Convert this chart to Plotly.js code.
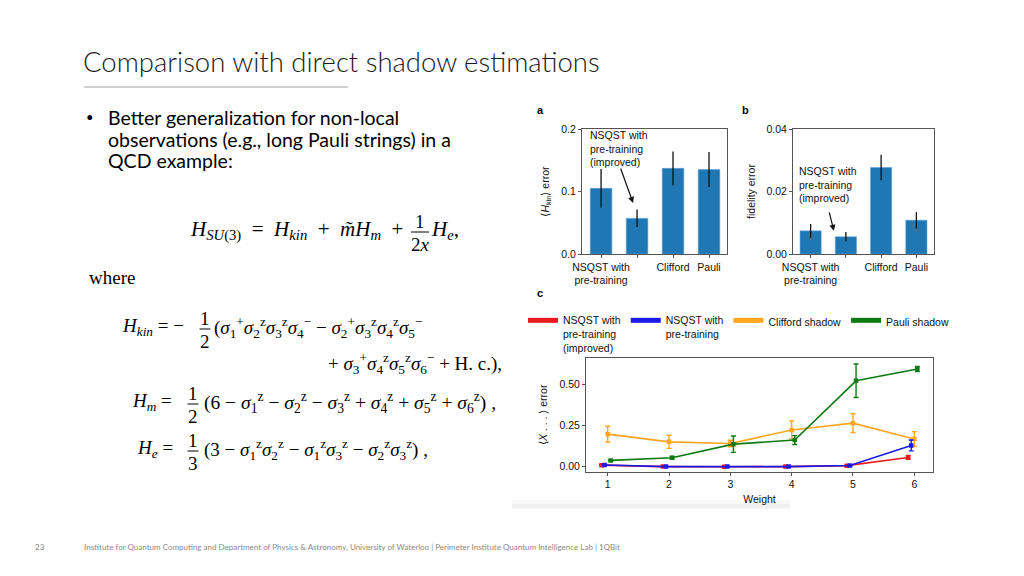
<!DOCTYPE html>
<html>
<head>
<meta charset="utf-8">
<script src="https://cdn.plot.ly/plotly-3.0.1.min.js"></script>
<style>html,body{margin:0;padding:0;background:#fff;}#chart{width:1024px;height:576px;}</style>
</head>
<body>
<div id="chart"></div>
<script>
// ---- data ----
const barCategories = ["NSQST with pre-training", "NSQST with pre-training (improved)", "Clifford", "Pauli"];
const barTickLabels = ["NSQST with<br>pre-training", " ", "Clifford", "Pauli"];
const hkinError = [0.105, 0.057, 0.137, 0.135];
const hkinErrorBar = [0.031, 0.014, 0.027, 0.028];
const fidelityError = [0.0074, 0.0055, 0.0277, 0.0108];
const fidelityErrorBar = [0.0022, 0.0015, 0.0041, 0.0026];

const weights = [1, 2, 3, 4, 5, 6];
const seriesNames = ["NSQST with<br>pre-training<br>(improved)", "NSQST with<br>pre-training", "Clifford shadow", "Pauli shadow"];
const nsqstImproved = [0.010, 0.001, 0.000, 0.001, 0.007, 0.057];
const nsqstImprovedErr = [0.004, 0.003, 0.003, 0.003, 0.003, 0.012];
const nsqst = [0.011, 0.001, 0.001, 0.001, 0.008, 0.130];
const nsqstErr = [0.004, 0.003, 0.003, 0.003, 0.004, 0.033];
const clifford = [0.199, 0.152, 0.142, 0.224, 0.266, 0.169];
const cliffordErr = [0.048, 0.040, 0.020, 0.055, 0.057, 0.045];
const pauli = [0.039, 0.055, 0.138, 0.163, 0.524, 0.596];
const pauliErr = [0.004, 0.008, 0.050, 0.027, 0.102, 0.016];

// ---- helpers ----
const W = 1024, H = 576;
const px = x => x / W;
const py = y => 1 - y / H;
const SANS = "Liberation Sans, Arial, sans-serif";
const SERIF = "Liberation Serif, Times New Roman, serif";
const SLIDE = "Lato, Open Sans, sans-serif";
const barIdx = barCategories.map((_, i) => i);

function T(x, y, text, size, opt) {
  opt = opt || {};
  return {xref: 'paper', yref: 'paper', x: px(x), y: py(y), text: text, showarrow: false,
    xanchor: opt.xa || 'left', yanchor: opt.ya || 'middle', align: opt.align || 'left',
    font: {family: opt.family || SERIF, size: size, color: opt.color || '#000', weight: opt.weight || 'normal'}};
}
const shapes = [];
const annotations = [];
function frac(xc, yBar, num, den, w, size) {
  annotations.push(T(xc, yBar - 11, num, size, {xa: 'center'}));
  annotations.push(T(xc, yBar + 12, den, size, {xa: 'center'}));
  shapes.push({type: 'line', xref: 'paper', yref: 'paper', x0: px(xc - w / 2), x1: px(xc + w / 2), y0: py(yBar), y1: py(yBar), line: {color: '#000', width: 1}});
}
const s = (sub, sup) => `<i>σ</i><sub>${sub}</sub><sup>${sup}</sup>`;
const z = 'z';
const E = '\u2002'; // en space for wide math spacing

// ---- slide text ----
annotations.push(T(81, 61, "Comparison with direct shadow estimations", 27.5, {family: SLIDE, color: '#1a1a1a', weight: 300}));
shapes.push({type: 'line', xref: 'paper', yref: 'paper', x0: px(84), x1: px(348), y0: py(87), y1: py(87), line: {color: '#a0a0a0', width: 1}});
annotations.push(T(84, 117, "•", 13, {family: SLIDE}));
annotations.push(T(106, 117, "Better generalization for non-local", 19.5, {family: SLIDE}));
annotations.push(T(106, 139, "observations (e.g., long Pauli strings) in a", 19.5, {family: SLIDE}));
annotations.push(T(106, 161, "QCD example:", 19.5, {family: SLIDE}));

const EQ = 19;
annotations.push(T(188, 230, "<i>H</i><sub><i>SU</i>(3)</sub>" + E + "=" + E + "<i>H</i><sub><i>kin</i></sub>" + E + "+" + E + "<i>m̃H</i><sub><i>m</i></sub>" + E + "+", 21));
frac(420, 232, "1", "2<i>x</i>", 18, EQ);
annotations.push(T(429, 230, "<i>H</i><sub><i>e</i></sub>,", 21));
annotations.push(T(87, 277, "where", EQ));

annotations.push(T(120, 327, "<i>H</i><sub><i>kin</i></sub> = −", EQ));
frac(205, 329, "1", "2", 11, EQ);
annotations.push(T(212, 327, "(" + s(1, '+') + s(2, z) + s(3, z) + s(4, '−') + " − " + s(2, '+') + s(3, z) + s(4, z) + s(5, '−'), EQ));
annotations.push(T(504, 363, "+ " + s(3, '+') + s(4, z) + s(5, z) + s(6, '−') + " + H. c.),", EQ, {xa: 'right'}));

annotations.push(T(130, 402, "<i>H</i><sub><i>m</i></sub> =", EQ));
frac(193, 404, "1", "2", 11, EQ);
annotations.push(T(202, 402, "(6 − " + s(1, z) + " − " + s(2, z) + " − " + s(3, z) + " + " + s(4, z) + " + " + s(5, z) + " + " + s(6, z) + ") ,", 19.5));

annotations.push(T(135, 449, "<i>H</i><sub><i>e</i></sub> =", EQ));
frac(193, 451, "1", "3", 11, EQ);
annotations.push(T(202, 449, "(3 − " + s(1, z) + s(2, z) + " − " + s(1, z) + s(3, z) + " − " + s(2, z) + s(3, z) + ") ,", EQ));

annotations.push(T(33, 547, "23", 8, {family: SLIDE, color: '#8a8a8a'}));
annotations.push(T(82, 547, "Institute for Quantum Computing and Department of Physics &amp; Astronomy, University of Waterloo | Perimeter Institute Quantum Intelligence Lab | 1QBit", 8, {family: SLIDE, color: '#8a8a8a'}));

// panel letters
annotations.push(T(535, 110, "a", 11, {family: SANS, weight: 'bold'}));
annotations.push(T(740, 110, "b", 11, {family: SANS, weight: 'bold'}));
annotations.push(T(535, 293, "c", 11, {family: SANS, weight: 'bold'}));

// in-chart annotations
annotations.push(T(588, 148, "NSQST with<br>pre-training<br>(improved)", 10.5, {family: SANS, color: '#111'}));
annotations.push({xref: 'x', yref: 'y', x: 0.89, y: 0.0816, ax: -13, ay: -36, text: '', showarrow: true, arrowhead: 2, arrowsize: 1, arrowwidth: 1.2, arrowcolor: '#111', standoff: 0});
annotations.push(T(797, 184, "NSQST with<br>pre-training<br>(improved)", 10.5, {family: SANS, color: '#111'}));
annotations.push({xref: 'x2', yref: 'y2', x: 0.66, y: 0.0074, ax: -5, ay: -20, text: '', showarrow: true, arrowhead: 2, arrowsize: 1, arrowwidth: 1.2, arrowcolor: '#111', standoff: 0});

// faint strip under panel c
shapes.push({type: 'rect', xref: 'paper', yref: 'paper', x0: px(512), x1: px(790), y0: py(504), y1: py(500), line: {width: 0}, fillcolor: '#f8f8f8', layer: 'below'});
shapes.push({type: 'rect', xref: 'paper', yref: 'paper', x0: px(512), x1: px(790), y0: py(508.5), y1: py(504), line: {width: 0}, fillcolor: '#f0f0f0', layer: 'below'});

// ---- traces ----
const barColor = '#1f77b4';
const traces = [];
traces.push({type: 'bar', x: barIdx, y: hkinError, xaxis: 'x', yaxis: 'y', width: 0.6, showlegend: false,
  marker: {color: barColor, line: {color: '#5aa0d6', width: 0.6}},
  error_y: {type: 'data', array: hkinErrorBar, visible: true, color: '#111', thickness: 1.3, width: 0}, hoverinfo: 'skip'});
traces.push({type: 'bar', x: barIdx, y: fidelityError, xaxis: 'x2', yaxis: 'y2', width: 0.6, showlegend: false,
  marker: {color: barColor, line: {color: '#5aa0d6', width: 0.6}},
  error_y: {type: 'data', array: fidelityErrorBar, visible: true, color: '#111', thickness: 1.3, width: 0}, hoverinfo: 'skip'});

const colors = ['#e81c1c', '#1a1ae8', '#ffa51f', '#0f7a12'];
const values = [nsqstImproved, nsqst, clifford, pauli];
const errs = [nsqstImprovedErr, nsqstErr, cliffordErr, pauliErr];
const dodge = [-0.1, -0.05, 0, 0.05];
const order = [2, 3, 0, 1];
order.forEach(i => {
  traces.push({type: 'scatter', mode: 'lines+markers', x: weights.map(w => w + dodge[i]), y: values[i],
    xaxis: 'x3', yaxis: 'y3', showlegend: false, name: seriesNames[i],
    line: {color: colors[i], width: 1.6}, marker: {color: colors[i], size: 4.5, symbol: 'square'},
    error_y: {type: 'data', array: errs[i], visible: true, color: colors[i], thickness: 1.4, width: 2.5}, hoverinfo: 'skip'});
});
[0, 1, 2, 3].forEach(i => {
  traces.push({type: 'scatter', mode: 'lines', x: [null], y: [null], xaxis: 'x3', yaxis: 'y3',
    name: seriesNames[i], showlegend: true, line: {color: colors[i], width: 5}});
});

// ---- axes ----
const axCommon = {showline: true, mirror: true, linecolor: '#555', linewidth: 1, ticks: 'outside', ticklen: 3,
  tickcolor: '#555', showgrid: false, zeroline: false, fixedrange: true,
  tickfont: {family: SANS, size: 10.5, color: '#111'}};
const titleFont = {family: SANS, size: 10.5, color: '#111'};

const layout = {
  width: W, height: H, margin: {l: 0, r: 0, t: 0, b: 0}, autosize: false,
  paper_bgcolor: '#fff', plot_bgcolor: '#fff', bargap: 0.4,
  showlegend: true,
  legend: {orientation: 'h', x: px(523), y: py(307), xanchor: 'left', yanchor: 'top', valign: 'top',
    font: {family: SANS, size: 10.5, color: '#111'}, bgcolor: 'rgba(0,0,0,0)', itemwidth: 30, traceorder: 'normal'},
  xaxis: Object.assign({}, axCommon, {domain: [px(582), px(727)], range: [-0.53, 3.5], tickvals: barIdx, ticktext: barTickLabels, anchor: 'y'}),
  yaxis: Object.assign({}, axCommon, {domain: [py(254), py(129)], range: [0, 0.2], tickvals: [0, 0.1, 0.2], tickformat: '.1f', anchor: 'x',
    title: {text: '⟨<i>H</i><sub>kin</sub>⟩ error', font: titleFont, standoff: 9}}),
  xaxis2: Object.assign({}, axCommon, {domain: [px(793), px(934)], range: [-0.5, 3.5], tickvals: barIdx, ticktext: barTickLabels, anchor: 'y2'}),
  yaxis2: Object.assign({}, axCommon, {domain: [py(254), py(129)], range: [0, 0.04], tickvals: [0, 0.02, 0.04], tickformat: '.2f', anchor: 'x2',
    title: {text: 'fidelity error', font: titleFont, standoff: 8}}),
  xaxis3: Object.assign({}, axCommon, {domain: [px(586), px(933)], range: [0.646, 6.305], tickvals: weights, anchor: 'y3',
    title: {text: 'Weight', font: titleFont, standoff: 6}}),
  yaxis3: Object.assign({}, axCommon, {domain: [py(471.7), py(358)], range: [-0.03, 0.663], tickvals: [0, 0.25, 0.5], tickformat: '.2f', anchor: 'x3',
    title: {text: '⟨<i>X</i> . . . ⟩ error', font: titleFont, standoff: 9}}),
  shapes: shapes,
  annotations: annotations
};

Plotly.newPlot('chart', traces, layout, {staticPlot: true, displayModeBar: false});
</script>
</body>
</html>
